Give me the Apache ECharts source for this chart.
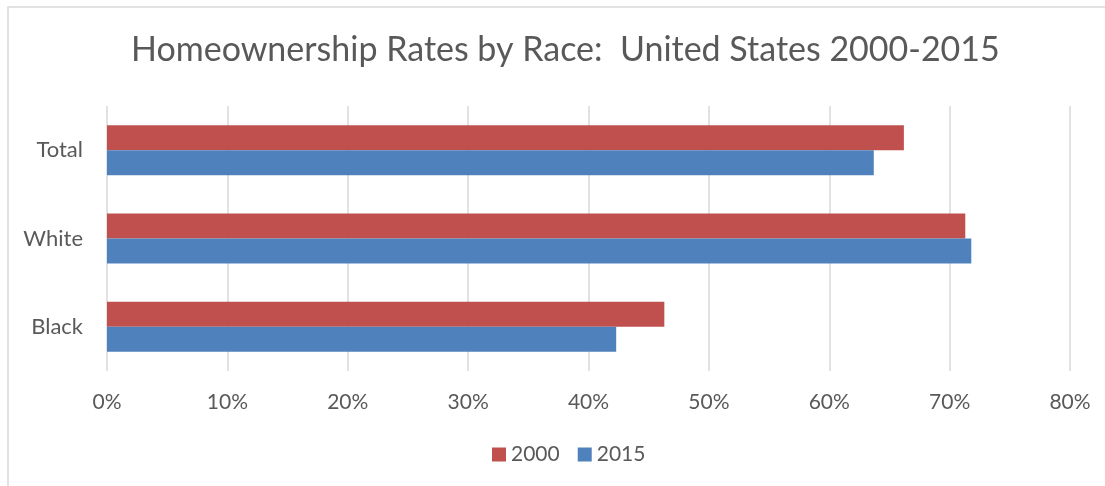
<!DOCTYPE html>
<html>
<head>
<meta charset="utf-8">
<script src="https://cdn.jsdelivr.net/npm/echarts@6/dist/echarts.min.js"></script>
<style>
html,body{margin:0;padding:0;background:#fff;}
#chart{width:1105px;height:486px;}
</style>
</head>
<body>
<div id="chart"></div>
<script>
const categories = ["Total", "White", "Black"];
const seriesNames = ["2000", "2015"];
const values2000 = [66.2, 71.3, 46.3];
const values2015 = [63.7, 71.8, 42.3];
const xTicks = { min: 0, max: 80, interval: 10 };
const titleText = "Homeownership Rates by Race:  United States 2000-2015";

const FONT = "Lato";
const TXT = "#595959";
const chart = echarts.init(document.getElementById('chart'), null, { renderer: 'canvas' });
chart.setOption({
  animation: false,
  backgroundColor: '#fff',
  title: {
    text: titleText,
    left: 131,
    top: 33,
    padding: 0,
    textStyle: { fontFamily: FONT, fontSize: 34, fontWeight: 'normal', color: TXT }
  },
  graphic: [{
    type: 'rect',
    shape: { x: 8, y: 7, width: 1300, height: 700 },
    style: { fill: 'none', stroke: '#d9d9d9', lineWidth: 1.5 },
    silent: true
  }],
  legend: {
    data: seriesNames,
    left: 492,
    top: 444,
    padding: 0,
    itemWidth: 14,
    itemHeight: 14,
    itemGap: 18,
    icon: 'rect',
    textStyle: { fontFamily: FONT, fontSize: 21, color: TXT, padding: [0, 0, 0, 0] }
  },
  grid: { left: 107, right: 35, top: 106, bottom: 115, containLabel: false },
  xAxis: {
    type: 'value',
    min: xTicks.min, max: xTicks.max, interval: xTicks.interval,
    axisLine: { show: false },
    axisTick: { show: false },
    splitLine: { show: true, lineStyle: { color: '#d9d9d9', width: 1.5 } },
    axisLabel: { formatter: '{value}%', margin: 21, fontFamily: FONT, fontSize: 21, color: TXT }
  },
  yAxis: {
    type: 'category',
    data: categories,
    inverse: true,
    axisLine: { show: false },
    axisTick: { show: false },
    axisLabel: { margin: 24, fontFamily: FONT, fontSize: 22, color: TXT }
  },
  series: [
    { name: seriesNames[0], type: 'bar', data: values2000, barWidth: 25, barGap: '0%',
      itemStyle: { color: '#C0504D' } },
    { name: seriesNames[1], type: 'bar', data: values2015, barWidth: 25, barGap: '0%',
      itemStyle: { color: '#4F81BD' } }
  ]
});
</script>
</body>
</html>
